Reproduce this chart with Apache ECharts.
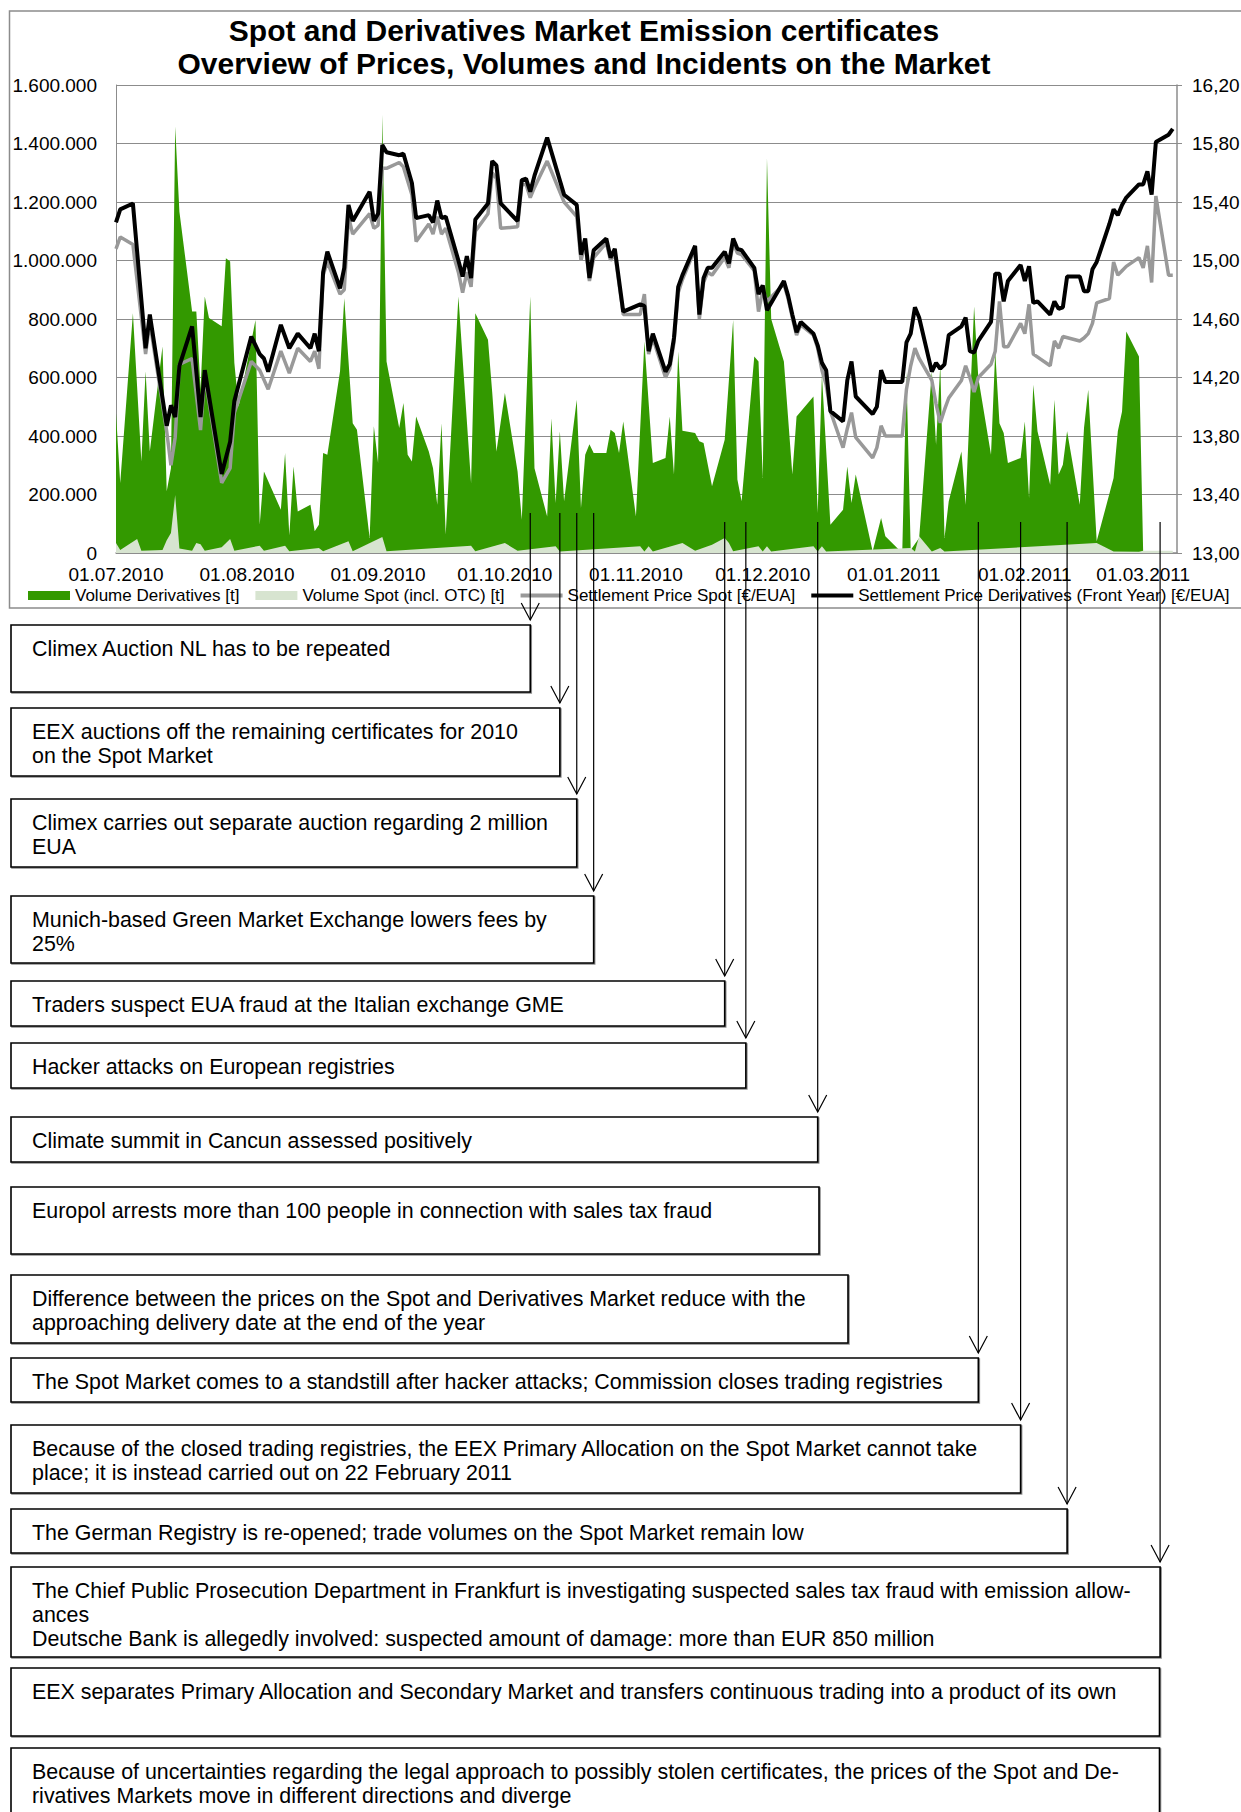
<!DOCTYPE html>
<html>
<head>
<meta charset="utf-8">
<title>Spot and Derivatives Market Emission certificates</title>
<script src="https://cdn.jsdelivr.net/npm/echarts@6/dist/echarts.min.js"></script>
<style>
  html, body { margin: 0; padding: 0; background: #ffffff; }
  #chart { width: 1241px; height: 1812px; }
</style>
</head>
<body>
<div id="chart"></div>
<script>
// ---- Data -------------------------------------------------------------
const monthStarts = ['2010-07-01','2010-08-01','2010-09-01','2010-10-01','2010-11-01',
  '2010-12-01','2011-01-01','2011-02-01','2011-03-01'];

const priceTicks = [13.0, 13.4, 13.8, 14.2, 14.6, 15.0, 15.4, 15.8, 16.2];

// Traded volume on the derivatives market [t]
const volumeDerivatives = [
  ['2010-07-01',478000],['2010-07-02',239000],['2010-07-05',820000],['2010-07-07',313000],['2010-07-08',621000],
  ['2010-07-09',347000],['2010-07-12',706000],['2010-07-13',211000],['2010-07-14',290000],['2010-07-15',1458000],
  ['2010-07-16',1167000],['2010-07-19',826000],['2010-07-20',826000],['2010-07-21',560000],['2010-07-22',877000],
  ['2010-07-23',803000],['2010-07-26',775000],['2010-07-27',1008000],['2010-07-28',997000],['2010-07-29',650000],
  ['2010-07-30',500000],['2010-08-03',797000],['2010-08-04',97000],['2010-08-05',279000],['2010-08-09',148000],
  ['2010-08-10',342000],['2010-08-11',60000],['2010-08-12',296000],['2010-08-13',142000],['2010-08-16',165000],
  ['2010-08-17',74000],['2010-08-18',97000],['2010-08-19',342000],['2010-08-20',336000],['2010-08-23',621000],
  ['2010-08-24',871000],['2010-08-26',444000],['2010-08-27',421000],['2010-08-30',51000],['2010-08-31',433000],
  ['2010-09-01',308000],['2010-09-02',1498000],['2010-09-03',655000],['2010-09-06',427000],['2010-09-07',513000],
  ['2010-09-08',336000],['2010-09-09',313000],['2010-09-10',467000],['2010-09-13',347000],['2010-09-14',290000],
  ['2010-09-15',165000],['2010-09-16',444000],['2010-09-17',63000],['2010-09-20',877000],['2010-09-23',239000],
  ['2010-09-24',820000],['2010-09-27',729000],['2010-09-28',550000],['2010-09-29',347000],['2010-10-01',547000],
  ['2010-10-04',279000],['2010-10-05',114000],['2010-10-07',877000],['2010-10-08',290000],['2010-10-11',125000],
  ['2010-10-12',461000],['2010-10-13',171000],['2010-10-14',416000],['2010-10-15',177000],['2010-10-18',524000],
  ['2010-10-19',154000],['2010-10-20',336000],['2010-10-21',372000],['2010-10-22',342000],['2010-10-25',342000],
  ['2010-10-26',421000],['2010-10-27',410000],['2010-10-28',342000],['2010-10-29',450000],['2010-11-01',125000],
  ['2010-11-03',723000],['2010-11-05',308000],['2010-11-08',325000],['2010-11-09',467000],['2010-11-10',268000],
  ['2010-11-11',689000],['2010-11-12',418000],['2010-11-15',410000],['2010-11-16',382000],['2010-11-17',376000],
  ['2010-11-19',228000],['2010-11-22',387000],['2010-11-24',797000],['2010-11-25',251000],['2010-11-26',177000],
  ['2010-11-29',672000],['2010-11-30',655000],['2010-12-01',256000],['2010-12-02',1350000],['2010-12-03',800000],
  ['2010-12-06',655000],['2010-12-08',268000],['2010-12-09',467000],['2010-12-13',535000],['2010-12-14',137000],
  ['2010-12-15',609000],['2010-12-17',97000],['2010-12-20',148000],['2010-12-21',296000],['2010-12-22',171000],
  ['2010-12-23',268000],['2010-12-27',6000],['2010-12-29',120000],['2010-12-30',57000],['2011-01-03',0],
  ['2011-01-04',620000],['2011-01-05',10000],['2011-01-07',51000],['2011-01-10',621000],['2011-01-11',370000],
  ['2011-01-12',644000],['2011-01-13',51000],['2011-01-14',177000],['2011-01-17',347000],['2011-01-18',165000],
  ['2011-01-20',843000],['2011-01-21',598000],['2011-01-24',336000],['2011-01-25',689000],['2011-01-26',444000],
  ['2011-01-27',410000],['2011-01-28',308000],['2011-01-31',325000],['2011-02-01',450000],['2011-02-02',188000],
  ['2011-02-03',575000],['2011-02-04',416000],['2011-02-07',233000],['2011-02-08',524000],['2011-02-09',268000],
  ['2011-02-10',302000],['2011-02-11',416000],['2011-02-14',165000],['2011-02-15',427000],['2011-02-16',558000],
  ['2011-02-18',40000],['2011-02-22',256000],['2011-02-23',416000],['2011-02-24',484000],['2011-02-25',757000],
  ['2011-02-28',672000],['2011-03-01',0]
];

// Traded volume on the spot market incl. OTC clearing [t]
const volumeSpot = [
  ['2010-07-01',34000],['2010-07-02',10000],['2010-07-06',48000],['2010-07-07',8000],['2010-07-12',10000],
  ['2010-07-13',44000],['2010-07-14',68000],['2010-07-15',198000],['2010-07-16',15000],['2010-07-19',8000],
  ['2010-07-20',34000],['2010-07-21',30000],['2010-07-22',8000],['2010-07-26',20000],['2010-07-28',48000],
  ['2010-07-29',8000],['2010-08-04',25000],['2010-08-05',8000],['2010-08-10',25000],['2010-08-11',6000],
  ['2010-08-18',17000],['2010-08-19',6000],['2010-08-25',40000],['2010-08-26',6000],['2010-09-02',55000],
  ['2010-09-03',6000],['2010-09-23',25000],['2010-09-24',6000],['2010-10-01',34000],['2010-10-04',8000],
  ['2010-10-13',23000],['2010-10-14',5000],['2010-11-02',23000],['2010-11-03',5000],['2010-11-04',23000],
  ['2010-11-05',5000],['2010-11-12',34000],['2010-11-15',8000],['2010-11-19',28000],['2010-11-22',51000],
  ['2010-11-23',34000],['2010-11-24',6000],['2010-11-30',23000],['2010-12-01',5000],['2010-12-02',23000],
  ['2010-12-03',5000],['2010-12-13',23000],['2010-12-14',5000],['2010-12-15',23000],['2010-12-16',5000],
  ['2011-01-05',17000],['2011-01-06',5000],['2011-01-07',57000],['2011-01-10',5000],['2011-01-12',17000],
  ['2011-01-13',5000],['2011-02-18',34000],['2011-02-22',5000],['2011-02-28',4000],['2011-03-01',8000],
  ['2011-03-08',8000]
];

// Settlement price spot [EUR/EUA]
const priceSpot = [
  ['2010-07-01',15.08],['2010-07-02',15.16],['2010-07-05',15.11],['2010-07-08',14.36],['2010-07-09',14.58],
  ['2010-07-13',13.83],['2010-07-14',13.60],['2010-07-15',13.79],['2010-07-16',14.29],['2010-07-19',14.33],
  ['2010-07-21',13.84],['2010-07-22',14.22],['2010-07-26',13.48],['2010-07-28',13.58],['2010-07-29',13.96],
  ['2010-08-02',14.31],['2010-08-04',14.25],['2010-08-06',14.12],['2010-08-09',14.38],['2010-08-11',14.23],
  ['2010-08-13',14.40],['2010-08-16',14.31],['2010-08-17',14.38],['2010-08-18',14.26],['2010-08-19',14.90],
  ['2010-08-20',14.99],['2010-08-23',14.77],['2010-08-24',14.80],['2010-08-25',15.30],['2010-08-26',15.18],
  ['2010-08-30',15.32],['2010-08-31',15.22],['2010-09-01',15.24],['2010-09-02',15.63],['2010-09-03',15.63],
  ['2010-09-06',15.67],['2010-09-07',15.64],['2010-09-09',15.45],['2010-09-10',15.13],['2010-09-13',15.25],
  ['2010-09-14',15.18],['2010-09-15',15.30],['2010-09-16',15.18],['2010-09-17',15.22],['2010-09-20',14.92],
  ['2010-09-21',14.78],['2010-09-22',14.92],['2010-09-23',14.82],['2010-09-24',15.20],['2010-09-27',15.32],
  ['2010-09-28',15.60],['2010-09-29',15.56],['2010-09-30',15.22],['2010-10-04',15.23],['2010-10-05',15.52],
  ['2010-10-06',15.52],['2010-10-07',15.43],['2010-10-08',15.50],['2010-10-11',15.68],['2010-10-15',15.40],
  ['2010-10-18',15.30],['2010-10-19',15.00],['2010-10-20',15.12],['2010-10-21',14.86],['2010-10-22',15.02],
  ['2010-10-25',15.12],['2010-10-26',15.00],['2010-10-27',15.05],['2010-10-29',14.63],['2010-11-02',14.63],
  ['2010-11-03',14.77],['2010-11-04',14.36],['2010-11-05',14.47],['2010-11-08',14.20],['2010-11-09',14.26],
  ['2010-11-10',14.44],['2010-11-11',14.78],['2010-11-12',14.87],['2010-11-15',15.08],['2010-11-16',14.60],
  ['2010-11-17',14.85],['2010-11-18',14.92],['2010-11-19',14.90],['2010-11-22',15.02],['2010-11-23',14.95],
  ['2010-11-24',15.12],['2010-11-25',15.05],['2010-11-26',15.04],['2010-11-29',14.93],['2010-11-30',14.65],
  ['2010-12-01',14.80],['2010-12-02',14.72],['2010-12-06',14.84],['2010-12-07',14.74],['2010-12-08',14.61],
  ['2010-12-09',14.49],['2010-12-10',14.56],['2010-12-13',14.49],['2010-12-14',14.40],['2010-12-15',14.25],
  ['2010-12-16',14.15],['2010-12-17',13.97],['2010-12-20',13.72],['2010-12-21',13.85],['2010-12-22',13.96],
  ['2010-12-23',13.79],['2010-12-27',13.65],['2010-12-28',13.72],['2010-12-29',13.87],['2010-12-30',13.80],
  ['2011-01-03',13.80],['2011-01-04',14.12],['2011-01-05',14.28],['2011-01-06',14.40],['2011-01-07',14.33],
  ['2011-01-10',14.18],['2011-01-11',14.02],['2011-01-12',13.89],['2011-01-13',13.98],['2011-01-14',14.06],
  ['2011-01-17',14.18],['2011-01-18',14.28],['2011-01-19',14.20],['2011-01-20',14.10],['2011-01-21',14.20],
  ['2011-01-24',14.29],['2011-01-25',14.38],['2011-01-26',14.72],['2011-01-27',14.41],['2011-01-28',14.41],
  ['2011-01-31',14.57],['2011-02-01',14.50],['2011-02-02',14.70],['2011-02-03',14.36],['2011-02-07',14.28],
  ['2011-02-08',14.45],['2011-02-09',14.40],['2011-02-10',14.48],['2011-02-14',14.45],['2011-02-15',14.47],
  ['2011-02-16',14.50],['2011-02-17',14.57],['2011-02-18',14.71],['2011-02-21',14.74],['2011-02-22',14.99],
  ['2011-02-23',14.90],['2011-02-24',14.93],['2011-02-25',14.96],['2011-02-28',15.02],['2011-03-01',14.95],
  ['2011-03-02',15.10],['2011-03-03',14.85],['2011-03-04',15.44],['2011-03-07',14.90],['2011-03-08',14.90]
];

// Settlement price derivatives, front year [EUR/EUA]
const priceDerivatives = [
  ['2010-07-01',15.26],['2010-07-02',15.35],['2010-07-05',15.39],['2010-07-08',14.40],['2010-07-09',14.63],
  ['2010-07-13',13.87],['2010-07-14',14.01],['2010-07-15',13.93],['2010-07-16',14.28],['2010-07-19',14.55],
  ['2010-07-21',13.93],['2010-07-22',14.25],['2010-07-26',13.54],['2010-07-28',13.76],['2010-07-29',14.04],
  ['2010-08-02',14.48],['2010-08-04',14.36],['2010-08-05',14.33],['2010-08-06',14.24],['2010-08-09',14.56],
  ['2010-08-11',14.40],['2010-08-13',14.50],['2010-08-16',14.40],['2010-08-17',14.50],['2010-08-18',14.38],
  ['2010-08-19',14.92],['2010-08-20',15.06],['2010-08-23',14.81],['2010-08-24',14.95],['2010-08-25',15.38],
  ['2010-08-26',15.27],['2010-08-30',15.47],['2010-08-31',15.27],['2010-09-01',15.32],['2010-09-02',15.79],
  ['2010-09-03',15.74],['2010-09-06',15.72],['2010-09-07',15.73],['2010-09-09',15.53],['2010-09-10',15.29],
  ['2010-09-13',15.31],['2010-09-14',15.26],['2010-09-15',15.41],['2010-09-16',15.29],['2010-09-17',15.30],
  ['2010-09-20',15.00],['2010-09-21',14.89],['2010-09-22',15.03],['2010-09-23',14.88],['2010-09-24',15.28],
  ['2010-09-27',15.39],['2010-09-28',15.68],['2010-09-29',15.65],['2010-09-30',15.39],['2010-10-04',15.27],
  ['2010-10-05',15.55],['2010-10-06',15.56],['2010-10-07',15.47],['2010-10-08',15.58],['2010-10-11',15.84],
  ['2010-10-15',15.45],['2010-10-18',15.38],['2010-10-19',15.04],['2010-10-20',15.15],['2010-10-21',14.88],
  ['2010-10-22',15.07],['2010-10-25',15.15],['2010-10-26',15.02],['2010-10-27',15.08],['2010-10-29',14.65],
  ['2010-11-02',14.70],['2010-11-03',14.69],['2010-11-04',14.38],['2010-11-05',14.50],['2010-11-08',14.24],
  ['2010-11-09',14.29],['2010-11-10',14.47],['2010-11-11',14.82],['2010-11-12',14.90],['2010-11-15',15.10],
  ['2010-11-16',14.63],['2010-11-17',14.88],['2010-11-18',14.95],['2010-11-19',14.95],['2010-11-22',15.06],
  ['2010-11-23',14.98],['2010-11-24',15.15],['2010-11-25',15.08],['2010-11-26',15.07],['2010-11-29',14.95],
  ['2010-11-30',14.77],['2010-12-01',14.83],['2010-12-02',14.66],['2010-12-06',14.86],['2010-12-07',14.76],
  ['2010-12-08',14.63],['2010-12-09',14.51],['2010-12-10',14.58],['2010-12-13',14.50],['2010-12-14',14.42],
  ['2010-12-15',14.30],['2010-12-16',14.25],['2010-12-17',13.97],['2010-12-20',13.90],['2010-12-21',14.18],
  ['2010-12-22',14.31],['2010-12-23',14.07],['2010-12-27',13.95],['2010-12-28',14.00],['2010-12-29',14.25],
  ['2010-12-30',14.17],['2011-01-03',14.17],['2011-01-04',14.44],['2011-01-05',14.50],['2011-01-06',14.68],
  ['2011-01-07',14.61],['2011-01-10',14.24],['2011-01-11',14.30],['2011-01-12',14.26],['2011-01-13',14.29],
  ['2011-01-14',14.49],['2011-01-17',14.55],['2011-01-18',14.61],['2011-01-19',14.38],['2011-01-20',14.37],
  ['2011-01-21',14.45],['2011-01-24',14.58],['2011-01-25',14.91],['2011-01-26',14.91],['2011-01-27',14.72],
  ['2011-01-28',14.86],['2011-01-31',14.97],['2011-02-01',14.86],['2011-02-02',14.96],['2011-02-03',14.71],
  ['2011-02-04',14.72],['2011-02-07',14.63],['2011-02-08',14.72],['2011-02-09',14.67],['2011-02-10',14.68],
  ['2011-02-11',14.89],['2011-02-14',14.89],['2011-02-15',14.79],['2011-02-16',14.79],['2011-02-17',14.94],
  ['2011-02-18',14.99],['2011-02-21',15.25],['2011-02-22',15.35],['2011-02-23',15.31],['2011-02-24',15.38],
  ['2011-02-25',15.43],['2011-02-28',15.52],['2011-03-01',15.52],['2011-03-02',15.61],['2011-03-03',15.45],
  ['2011-03-04',15.81],['2011-03-07',15.86],['2011-03-08',15.90]
];

// Market incidents; entries with a date get a pointer into the chart
const incidentDates = ['2010-10-07','2010-10-14','2010-10-18','2010-10-22','2010-11-22','2010-11-27',
  '2010-12-14', null, null, '2011-01-21','2011-01-31','2011-02-11','2011-03-05', null, null];

const incidentTexts = [
  'Climex Auction NL has to be repeated',
  'EEX auctions off the remaining certificates for 2010\non the Spot Market',
  'Climex carries out separate auction regarding 2 million\nEUA',
  'Munich-based Green Market Exchange lowers fees by\n25%',
  'Traders suspect EUA fraud at the Italian exchange GME',
  'Hacker attacks on European registries',
  'Climate summit in Cancun assessed positively',
  'Europol arrests more than 100 people in connection with sales tax fraud',
  'Difference between the prices on the Spot and Derivatives Market reduce with the\napproaching delivery date at the end of the year',
  'The Spot Market comes to a standstill after hacker attacks; Commission closes trading registries',
  'Because of the closed trading registries, the EEX Primary Allocation on the Spot Market cannot take\nplace; it is instead carried out on 22 February 2011',
  'The German Registry is re-opened; trade volumes on the Spot Market remain low',
  'The Chief Public Prosecution Department in Frankfurt is investigating suspected sales tax fraud with emission allow-\nances\nDeutsche Bank is allegedly involved: suspected amount of damage: more than EUR 850 million',
  'EEX separates Primary Allocation and Secondary Market and transfers continuous trading into a product of its own',
  'Because of uncertainties regarding the legal approach to possibly stolen certificates, the prices of the Spot and De-\nrivatives Markets move in different directions and diverge'
];

// ---- Layout of the incident boxes (page pixels) ------------------------
const boxTop    = [625, 708, 799, 896, 981, 1043, 1117, 1187, 1275, 1358, 1425, 1509, 1567, 1668, 1748];
const boxBottom = [692, 776, 867, 963, 1026, 1088, 1162, 1254, 1343, 1402, 1493, 1553, 1657, 1736, 1840];
const boxRightFixed = [null, null, null, null, null, null, null, 819, 848, null, null, null, null, 1159.5, 1159.5];
const pointerStartY = [513, 513, 513, 513, 522, 522, 522, null, null, 522, 522, 522, 522, null, null];

// ---- Helpers ------------------------------------------------------------
const FONT = '"Liberation Sans", Arial, Helvetica, sans-serif';
const toTime = s => { const p = s.split('-').map(Number); return new Date(p[0], p[1] - 1, p[2]).getTime(); };
const pad2 = n => String(n).padStart(2, '0');
const fmtDate = t => { const d = new Date(t); return pad2(d.getDate()) + '.' + pad2(d.getMonth() + 1) + '.' + d.getFullYear(); };
const fmtVolume = v => String(Math.round(v)).replace(/\B(?=(\d{3})+(?!\d))/g, '.');
const fmtPrice = v => v.toFixed(2).replace('.', ',');
const byTime = rows => rows.map(r => [toTime(r[0]), r[1]]);

const GRAY = '#8c8c8c';
const GREEN = '#339900';
const LIGHT_GREEN = '#d7e4d0';
const SPOT_GRAY = '#999999';

// Legend glyph for the price lines: a 4px bar centred in the 42x9 icon box
// (the zero-area strokes at top and bottom only pin the bounding box).
const LINE_ICON = 'path://M0,0L42,0M0,2.5L42,2.5L42,6.5L0,6.5ZM0,9L42,9';

const chart = echarts.init(document.getElementById('chart'), null, { renderer: 'svg', width: 1241, height: 1812 });

chart.setOption({
  animation: false,
  backgroundColor: '#ffffff',
  textStyle: { fontFamily: FONT },
  grid: { left: 116, right: 64, top: 85, bottom: 1259, containLabel: false, outerBoundsMode: 'none' },
  legend: {
    left: 28, top: 587, width: 1212, padding: 0,
    itemWidth: 42, itemHeight: 9, itemGap: 16,
    selectedMode: false,
    textStyle: { fontSize: 17, color: '#000', fontFamily: FONT },
    data: [
      { name: 'Volume Derivatives [t]', icon: 'rect', itemStyle: { color: GREEN, borderWidth: 0 } },
      { name: 'Volume Spot (incl. OTC) [t]', icon: 'rect', itemStyle: { color: LIGHT_GREEN, borderWidth: 0 } },
      { name: 'Settlement Price Spot [€/EUA]', icon: LINE_ICON, itemStyle: { color: SPOT_GRAY, borderWidth: 0 } },
      { name: 'Settlement Price Derivatives (Front Year) [€/EUA]', icon: LINE_ICON, itemStyle: { color: '#000', borderWidth: 0 } }
    ]
  },
  xAxis: {
    type: 'value',
    min: toTime('2010-07-01'),
    max: toTime('2011-03-09'),
    axisLine: { show: true, onZero: false, lineStyle: { color: GRAY, width: 1.5 } },
    axisTick: { show: false },
    splitLine: { show: false },
    axisLabel: {
      customValues: monthStarts.map(toTime),
      formatter: fmtDate,
      fontSize: 19, color: '#000', margin: 12, hideOverlap: false,
      fontFamily: FONT
    }
  },
  yAxis: [
    {
      type: 'value', min: 0, max: 1600000, interval: 200000,
      axisLine: { show: true, lineStyle: { color: GRAY, width: 1 } },
      axisTick: { show: false },
      splitLine: { show: true, lineStyle: { color: GRAY, width: 1 } },
      axisLabel: { formatter: fmtVolume, fontSize: 19, color: '#000', margin: 19, fontFamily: FONT }
    },
    {
      type: 'value', min: 13, max: 16.2, position: 'right',
      axisLine: { show: true, lineStyle: { color: GRAY, width: 1.5 } },
      axisTick: { show: true, length: 5, inside: false, customValues: priceTicks, lineStyle: { color: GRAY } },
      splitLine: { show: false },
      axisLabel: { customValues: priceTicks, formatter: fmtPrice, fontSize: 19, color: '#000', margin: 15, fontFamily: FONT }
    }
  ],
  series: [
    {
      name: 'Volume Derivatives [t]', type: 'line', yAxisIndex: 0, data: byTime(volumeDerivatives),
      symbol: 'none', z: 1, color: GREEN,
      lineStyle: { width: 0, color: GREEN }, itemStyle: { color: GREEN },
      areaStyle: { color: GREEN, opacity: 1 }
    },
    {
      name: 'Volume Spot (incl. OTC) [t]', type: 'line', yAxisIndex: 0, data: byTime(volumeSpot),
      symbol: 'none', z: 2, color: LIGHT_GREEN,
      lineStyle: { width: 0, color: LIGHT_GREEN }, itemStyle: { color: LIGHT_GREEN },
      areaStyle: { color: LIGHT_GREEN, opacity: 1 }
    },
    {
      name: 'Settlement Price Spot [€/EUA]', type: 'line', yAxisIndex: 1, data: byTime(priceSpot),
      symbol: 'none', z: 3, color: SPOT_GRAY,
      lineStyle: { width: 3.5, color: SPOT_GRAY }, itemStyle: { color: SPOT_GRAY }
    },
    {
      name: 'Settlement Price Derivatives (Front Year) [€/EUA]', type: 'line', yAxisIndex: 1, data: byTime(priceDerivatives),
      symbol: 'none', z: 4, color: '#000',
      lineStyle: { width: 4, color: '#000' }, itemStyle: { color: '#000' }
    }
  ]
});

// ---- Frame, title, incident boxes and pointers ------------------------
const elements = [];

elements.push({
  type: 'rect', silent: true, z: -10,
  shape: { x: 9.5, y: 11, width: 1300, height: 597 },
  style: { fill: null, stroke: GRAY, lineWidth: 1.5 }
});

elements.push({
  type: 'text', silent: true, z: 50, x: 584, y: 30,
  style: { text: 'Spot and Derivatives Market Emission certificates', font: 'bold 30px ' + FONT,
           fill: '#000', align: 'center', verticalAlign: 'middle' }
});
elements.push({
  type: 'text', silent: true, z: 50, x: 584, y: 63.5,
  style: { text: 'Overview of Prices, Volumes and Incidents on the Market', font: 'bold 30px ' + FONT,
           fill: '#000', align: 'center', verticalAlign: 'middle' }
});

incidentTexts.forEach((text, i) => {
  const top = boxTop[i];
  const bottom = boxBottom[i];
  let right = boxRightFixed[i];
  const date = incidentDates[i];
  if (date) {
    const px = chart.convertToPixel({ xAxisIndex: 0 }, toTime(date));
    right = px;
    const tip = top - 5;
    elements.push({
      type: 'line', silent: true, z: 60,
      shape: { x1: px, y1: pointerStartY[i], x2: px, y2: tip },
      style: { stroke: '#000', lineWidth: 1.2 }
    });
    elements.push({
      type: 'polyline', silent: true, z: 60,
      shape: { points: [[px - 9, tip - 17], [px, tip], [px + 9, tip - 17]] },
      style: { stroke: '#000', lineWidth: 1.2, fill: null }
    });
  }
  elements.push({
    type: 'rect', silent: true, z: 40,
    shape: { x: 11, y: top, width: right - 11, height: bottom - top },
    style: { fill: '#ffffff', stroke: '#000', lineWidth: 1.6,
             shadowColor: 'rgba(0,0,0,0.45)', shadowBlur: 0, shadowOffsetX: 1, shadowOffsetY: 1 }
  });
  elements.push({
    type: 'text', silent: true, z: 45, x: 32, y: top + 12,
    style: { text: text, font: '21.4px ' + FONT, lineHeight: 24, fill: '#000',
             align: 'left', verticalAlign: 'top' }
  });
});

chart.setOption({ graphic: { elements: elements } });
</script>
</body>
</html>
